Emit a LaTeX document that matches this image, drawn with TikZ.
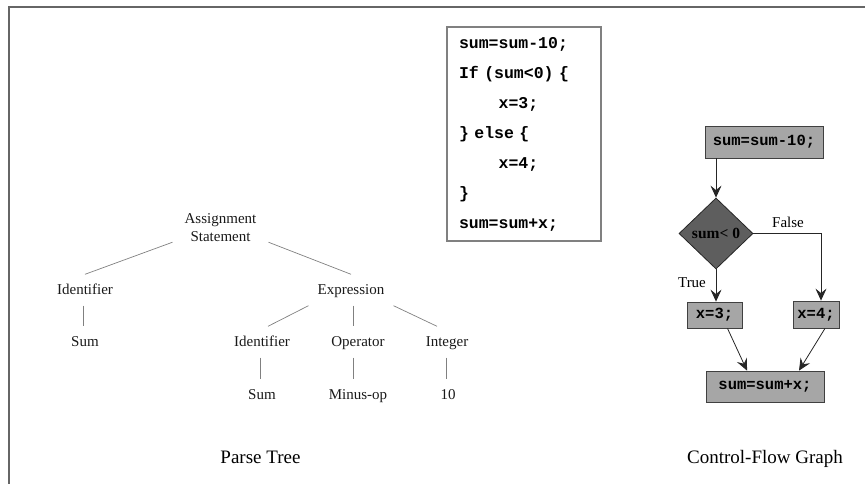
\documentclass[tikz,border=0pt]{standalone}
\usepackage{fontspec}
\setmainfont{Liberation Serif}
\newfontfamily\codefont{Liberation Mono}
\usetikzlibrary{shapes.geometric,arrows.meta,calc}

\begin{document}
\begin{tikzpicture}[x=1pt,y=-1pt,
  treelabel/.style={font=\fontsize{15}{18}\selectfont, text height=11pt, text depth=3pt,
    inner xsep=0pt, inner ysep=8.5pt, text=black!90},
  treeedge/.style={draw=black!50, line width=0.7pt},
  caption/.style={font=\fontsize{19}{22}\selectfont, anchor=base, inner sep=0pt},
  codefnt/.style={font=\codefont\bfseries\fontsize{16.5}{30}\selectfont},
  cfgbox/.style={font=\codefont\bfseries\fontsize{15.5}{18}\selectfont,
    draw=black!75, fill=black!35, line width=0.8pt, inner sep=0pt},
  cfgtest/.style={diamond, draw=black!85, fill=black!63, line width=0.8pt, inner sep=0pt,
    minimum width=74pt, minimum height=71pt, font=\bfseries\fontsize{15.5}{18}\selectfont},
  flow/.style={draw=black!85, line width=0.8pt, -{Stealth[length=12pt,width=11pt,inset=4.5pt]}},
  branch/.style={font=\fontsize{15}{18}\selectfont, inner sep=0pt},
  frameline/.style={draw=black!60, line width=1.6pt},
]
\useasboundingbox (0,0) rectangle (865,484);

% outer frame (top and left edges)
\draw[frameline] (9,486) -- (9,7) -- (867,7);

% ---------------- parse tree ----------------
\node[treelabel, align=center, inner xsep=12pt, inner ysep=0pt, text height=, text depth=]
  (as) at (220.5,228) {Assignment\\Statement};
\node[treelabel] (id1) at (85,290) {Identifier};
\node[treelabel, inner xsep=9pt] (ex) at (351,290) {Expression};
\node[treelabel] (sum1) at (85,342) {Sum};
\node[treelabel] (id2) at (262,342) {Identifier};
\node[treelabel] (op) at (358,342) {Operator};
\node[treelabel] (int) at (447,342) {Integer};
\node[treelabel] (sum2) at (262,395) {Sum};
\node[treelabel] (mop) at (358,395) {Minus-op};
\node[treelabel] (ten) at (448,395) {10};

\draw[treeedge] (as.south west) -- (id1.north);
\draw[treeedge] (as.south east) -- (ex.north);
\draw[treeedge] ([xshift=-2pt]id1.south) -- ([xshift=-2pt]sum1.north);
\draw[treeedge] (ex.south west) -- ([xshift=6pt]id2.north);
\draw[treeedge] ([xshift=2pt]ex.south) -- ([xshift=-5pt]op.north);
\draw[treeedge] (ex.south east) -- ([xshift=-10pt]int.north);
\draw[treeedge] ([xshift=-2pt]id2.south) -- ([xshift=-2pt]sum2.north);
\draw[treeedge] ([xshift=-5pt]op.south) -- ([xshift=-5pt]mop.north);
\draw[treeedge] ([xshift=-1pt]int.south) -- ([xshift=-2pt]ten.north);

\node[caption] (ptcap) at (260.5,463) {Parse Tree};

% ---------------- source code ----------------
\node[codefnt, draw=black!50, line width=1.1pt, inner xsep=12pt, inner ysep=0pt,
  text width=130pt, minimum height=214pt, align=left] (code) at (524,134)
  {sum=sum-10;\\
   If (sum<0) \{\\
   \hspace*{39.6pt}x=3;\\
   \} else \{\\
   \hspace*{39.6pt}x=4;\\
   \}\\
   sum=sum+x;};

% ---------------- control-flow graph ----------------
\node[cfgbox, minimum width=118pt, minimum height=32pt] (b1) at (764,142) {sum=sum-10;};
\node[cfgtest] (d) at (716,233.5) {sum< 0};
\node[cfgbox, minimum width=55pt, minimum height=26pt] (b3) at (714.5,315) {x=3;};
\node[cfgbox, minimum width=46pt, minimum height=27pt] (b4) at (816,314.5) {x=4;};
\node[cfgbox, minimum width=118pt, minimum height=31pt] (b5) at (765,386.5) {sum=sum+x;};

\draw[flow] (b1.south -| d.north) -- (d.north);
\draw[flow] (d.east) -| ([xshift=5pt]b4.north);
\draw[flow] (d.south) -- (d.south |- b3.north);
\draw[flow] ([xshift=13pt]b3.south) -- ([xshift=-18pt]b5.north);
\draw[flow] ([xshift=9pt]b4.south) -- ([xshift=34pt]b5.north);

\node[branch] (lfalse) at (788,222) {False};
\node[branch] (ltrue) at (692,283) {True};

\node[caption] (cfgcap) at (765,463) {Control-Flow Graph};
\end{tikzpicture}
\end{document}
